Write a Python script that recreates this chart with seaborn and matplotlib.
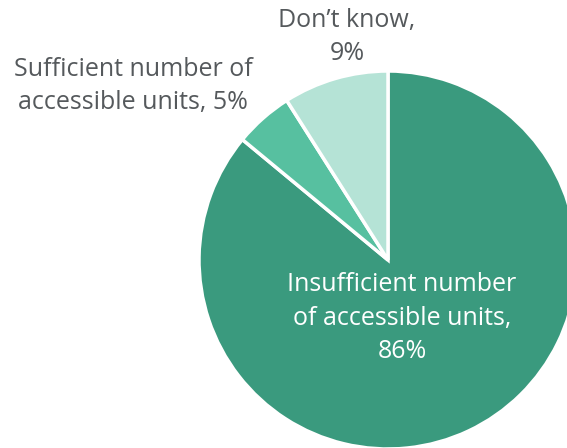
import seaborn as sns
import matplotlib.pyplot as plt

# data
labels = ['Insufficient number\nof accessible units,\n86%',
          'Sufficient number of\naccessible units, 5%',
          'Don\u2019t know,\n9%']
shares = [86, 5, 9]
colors = ['#3a9a7e', '#57c0a0', '#b5e3d6']

sns.set_style('white')
plt.rcParams['font.family'] = ['Open Sans', 'DejaVu Sans']

fig = plt.figure(figsize=(5.67, 4.48), dpi=100)
ax = fig.add_axes([0, 0, 1, 1])

# pie is bigger than the figure, cropped at the bottom and right
ax.pie(shares, colors=colors, startangle=90, counterclock=False,
       center=(388, 188), radius=189,
       wedgeprops=dict(edgecolor='white', linewidth=2.5))

ax.set_xlim(0, 567)
ax.set_ylim(0, 448)
ax.set_aspect('equal')
ax.axis('off')

# labels
ax.text(402, 130, labels[0], ha='center', va='center', color='white',
        fontsize=18, linespacing=1.45)
ax.text(133, 362, labels[1], ha='center', va='center', color='#55595c',
        fontsize=18, linespacing=1.45)
ax.text(347, 411, labels[2], ha='center', va='center', color='#55595c',
        fontsize=18, linespacing=1.45)

fig.savefig('out.png', dpi=100)
